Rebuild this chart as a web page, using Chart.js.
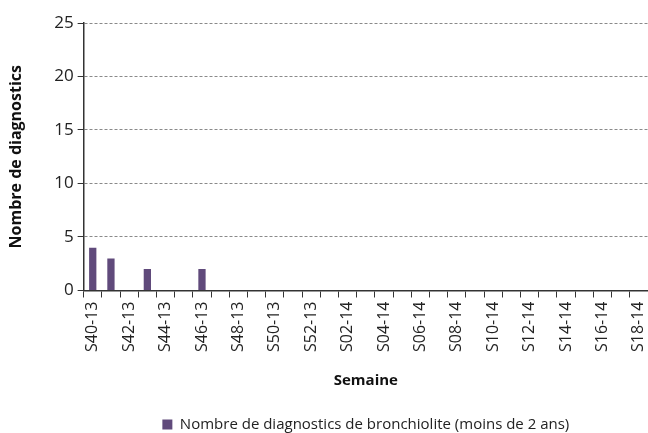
<!DOCTYPE html>
<html>
<head>
    <meta charset="utf-8">
    <title>Bronchiolite</title>
    <script src="https://cdn.jsdelivr.net/npm/chart.js@4.4.0/dist/chart.umd.min.js"></script>
    <style>
        html, body { margin: 0; padding: 0; background: #ffffff; }
        #wrap { width: 648px; height: 433px; }
    </style>
</head>
<body>
<div id="wrap"><canvas id="chart" width="648" height="433"></canvas></div>
<script>
    // semaines S40-13 .. S18-14
    const weeks = ['S40-13', 'S41-13', 'S42-13', 'S43-13', 'S44-13', 'S45-13', 'S46-13', 'S47-13',
        'S48-13', 'S49-13', 'S50-13', 'S51-13', 'S52-13', 'S01-14', 'S02-14', 'S03-14', 'S04-14',
        'S05-14', 'S06-14', 'S07-14', 'S08-14', 'S09-14', 'S10-14', 'S11-14', 'S12-14', 'S13-14',
        'S14-14', 'S15-14', 'S16-14', 'S17-14', 'S18-14'];
    const diagnostics = [4, 3, 0, 2, 0, 0, 2, 0, 0, 0, 0, 0, 0, 0, 0, 0, 0,
        0, 0, 0, 0, 0, 0, 0, 0, 0, 0, 0, 0, 0, 0];
    const yTicks = [0, 5, 10, 15, 20, 25];

    const font = "'Open Sans', 'DejaVu Sans', sans-serif";

    // centre la légende sur la zone de tracé et la descend un peu
    const legendOnArea = {
        id: 'legendOnArea',
        afterLayout(chart) {
            const lg = chart.legend;
            lg.left = chart.chartArea.left;
            lg.right = chart.chartArea.right;
            lg.top += 9;
            lg.bottom += 9;
        }
    };

    new Chart(document.getElementById('chart'), {
        type: 'bar',
        data: {
            labels: weeks,
            datasets: [{
                label: 'Nombre de diagnostics de bronchiolite (moins de 2 ans)',
                data: diagnostics,
                backgroundColor: '#604a7b',
                barPercentage: 0.4,
                categoryPercentage: 1.0
            }]
        },
        options: {
            responsive: false,
            animation: false,
            layout: { padding: { top: 23, right: 0, left: 7, bottom: 0 } },
            plugins: {
                legend: {
                    position: 'bottom',
                    labels: {
                        font: { family: font, size: 15 },
                        color: '#222',
                        boxWidth: 10,
                        boxHeight: 10,
                        padding: 4
                    }
                },
                tooltip: { enabled: false }
            },
            scales: {
                x: {
                    afterFit: function(axis) {
                        axis.paddingRight = 0;
                        axis.paddingLeft = 0;
                    },
                    grid: {
                        offset: true,
                        drawOnChartArea: false,
                        tickLength: 7,
                        color: '#333'
                    },
                    border: { color: '#333', width: 1.5 },
                    ticks: {
                        autoSkip: false,
                        minRotation: 90,
                        maxRotation: 90,
                        padding: 4,
                        color: '#222',
                        font: { family: font, size: 16 },
                        callback: function(value, index) {
                            return index % 2 === 0 ? weeks[index] : '';
                        }
                    },
                    title: {
                        display: true,
                        text: 'Semaine',
                        color: '#111',
                        font: { family: font, size: 15, weight: 'bold' },
                        padding: { top: 16, bottom: 14 }
                    }
                },
                y: {
                    min: 0,
                    max: 25,
                    afterBuildTicks: function(axis) {
                        axis.ticks = yTicks.map(v => ({ value: v }));
                    },
                    grid: {
                        color: function(ctx) { return ctx.tick.value === 0 ? 'rgba(0,0,0,0)' : '#8a8a8a'; },
                        tickLength: 6,
                        tickColor: '#333'
                    },
                    border: { color: '#333', width: 1.5, dash: [3, 2] },
                    ticks: {
                        color: '#222',
                        padding: 4,
                        font: { family: font, size: 17 }
                    },
                    title: {
                        display: true,
                        text: 'Nombre de diagnostics',
                        color: '#111',
                        font: { family: font, size: 16, weight: 'bold' },
                        padding: { top: 0, bottom: 24 }
                    }
                }
            }
        },
        plugins: [legendOnArea]
    });
</script>
</body>
</html>
